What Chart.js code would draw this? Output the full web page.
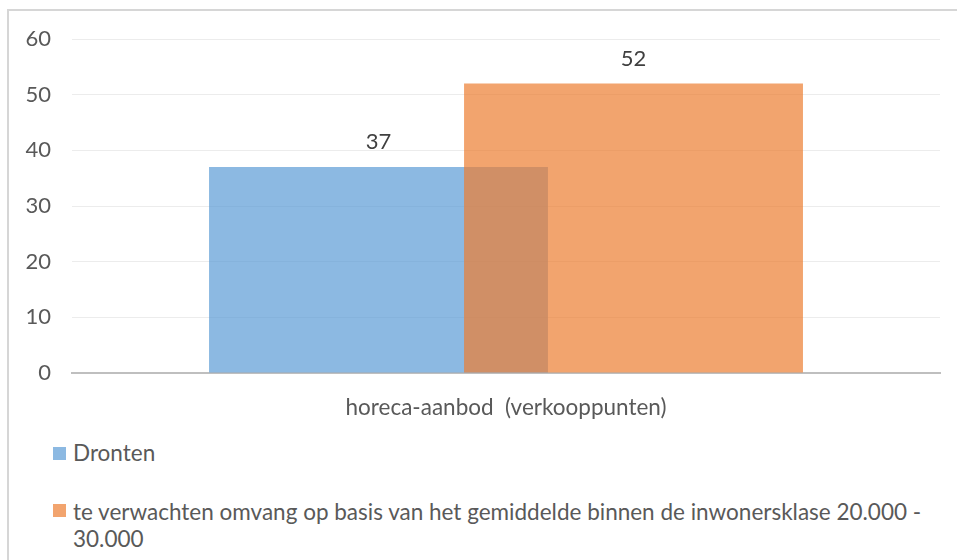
<!DOCTYPE html>
<html>
<head>
<meta charset="utf-8">
<script src="https://cdn.jsdelivr.net/npm/chart.js@4"></script>
<style>
  body { margin: 0; background: #fff; }
  #frame { position: absolute; left: 7px; top: 9px; width: 980px; height: 600px;
           border-top: 2px solid #d6d6d6; border-left: 2px solid #d6d6d6; }
  #wrap { position: absolute; left: 0; top: 0; width: 957px; height: 430px; }
  .lg-box { position: absolute; left: 53px; width: 13px; height: 13px; }
  .lg-text { position: absolute; left: 73px; width: 870px; font-family: Lato, sans-serif;
             font-size: 22.5px; line-height: 27px; color: #595959; }
</style>
</head>
<body>
<div id="frame"></div>
<div id="wrap"><canvas id="chart"></canvas></div>
<div id="legend"></div>
<script>
const categories = ['horeca-aanbod  (verkooppunten)'];
const seriesNames = ['Dronten', 'te verwachten omvang op basis van het gemiddelde binnen de inwonersklase 20.000 - 30.000'];
const drontenValues = [37];
const verwachtValues = [52];
const yTicks = [0, 10, 20, 30, 40, 50, 60];

const colors = ['rgba(91, 155, 213, 0.7)', 'rgba(237, 125, 49, 0.7)'];
const textColor = '#595959';

// draw datasets first-to-last so the orange bar sits on top of the blue one
const drawForward = {
  id: 'drawForward',
  beforeDatasetsDraw(chart) {
    chart.getSortedVisibleDatasetMetas().forEach(m => m.controller.draw());
    return false;
  }
};

// value labels above the bars
const valueLabels = {
  id: 'valueLabels',
  afterDraw(chart) {
    const ctx = chart.ctx;
    ctx.save();
    ctx.font = '22px Lato';
    ctx.fillStyle = '#404040';
    ctx.textAlign = 'center';
    ctx.textBaseline = 'alphabetic';
    chart.data.datasets.forEach((ds, i) => {
      chart.getDatasetMeta(i).data.forEach((bar, j) => {
        ctx.fillText(ds.data[j], bar.x, bar.y - 18);
      });
    });
    ctx.restore();
  }
};

const chart = new Chart(document.getElementById('chart'), {
  type: 'bar',
  data: {
    labels: categories,
    datasets: [
      { label: seriesNames[0], data: drontenValues, backgroundColor: colors[0] },
      { label: seriesNames[1], data: verwachtValues, backgroundColor: colors[1] }
    ]
  },
  options: {
    responsive: true,
    maintainAspectRatio: false,
    animation: false,
    categoryPercentage: 0.5876,
    barPercentage: 1.329,
    layout: { padding: { left: 8, top: 39, right: 17, bottom: 0 } },
    plugins: {
      legend: { display: false },
      tooltip: { enabled: false }
    },
    scales: {
      x: {
        grid: { display: false, drawTicks: false },
        border: { display: true, color: '#bfbfbf', width: 2 },
        ticks: { color: textColor, font: { family: 'Lato', size: 22.5 }, padding: 21 },
        afterFit: s => { s.height = 57; }
      },
      y: {
        min: 0,
        max: 60,
        afterBuildTicks: s => { s.ticks = yTicks.map(v => ({ value: v })); },
        grid: { color: '#ececec', lineWidth: 1, drawTicks: false },
        border: { display: false },
        ticks: { color: textColor, font: { family: 'Lato', size: 22 }, padding: 21 },
        afterFit: s => { s.width = 64; }
      }
    }
  },
  plugins: [drawForward, valueLabels]
});

// html legend (the long label wraps onto a second line)
const legendTops = [439, 498];
const boxTops = [447, 504];
const legend = document.getElementById('legend');
chart.data.datasets.forEach((ds, i) => {
  const box = document.createElement('div');
  box.className = 'lg-box';
  box.style.top = boxTops[i] + 'px';
  box.style.background = ds.backgroundColor;
  const txt = document.createElement('div');
  txt.className = 'lg-text';
  txt.style.top = legendTops[i] + 'px';
  txt.textContent = ds.label;
  legend.appendChild(box);
  legend.appendChild(txt);
});
</script>
</body>
</html>
